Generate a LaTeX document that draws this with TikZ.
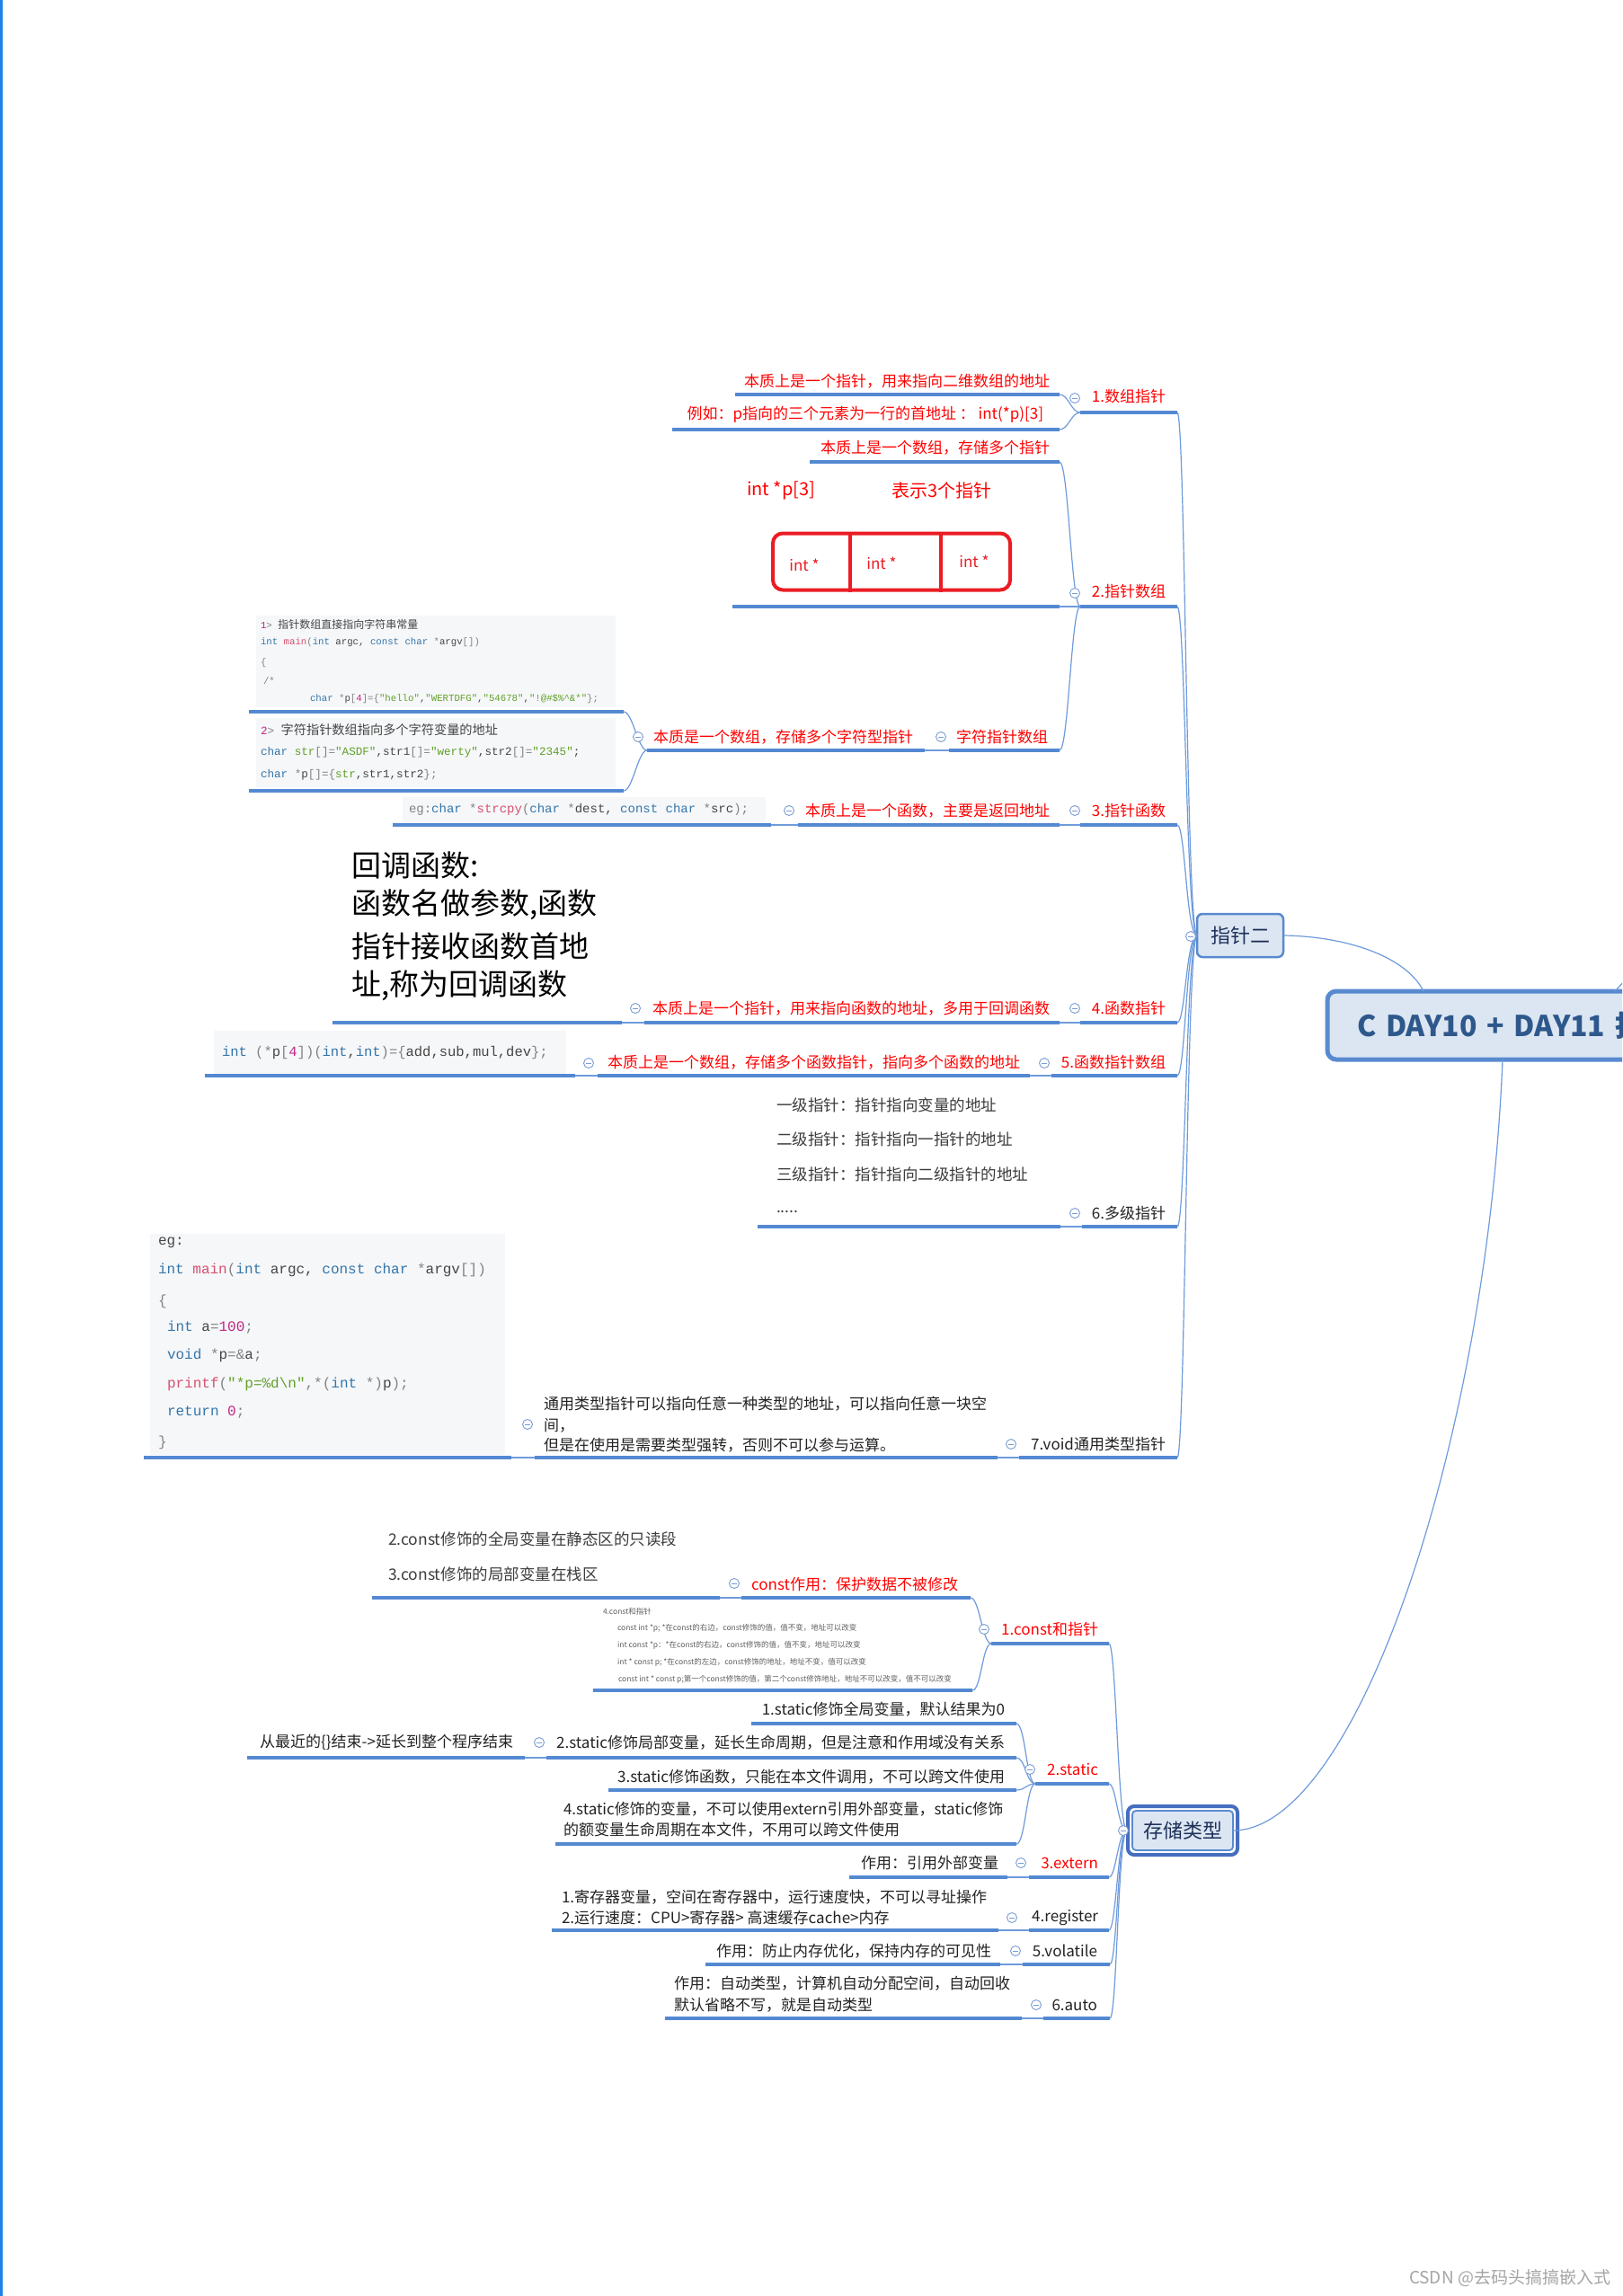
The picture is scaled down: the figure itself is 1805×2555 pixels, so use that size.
\documentclass[tikz,border=0pt]{standalone}
\usepackage{fontspec}
\setmainfont{Noto Sans CJK SC}
\setmonofont{Liberation Mono}
\usetikzlibrary{calc}
\definecolor{ublue}{RGB}{84,137,210}
\definecolor{cblue}{RGB}{110,155,220}
\definecolor{nfill}{RGB}{220,230,242}
\definecolor{nborder}{RGB}{88,138,208}
\definecolor{ntext}{RGB}{28,48,88}
\definecolor{ttext}{RGB}{46,88,140}
\definecolor{ccborder}{RGB}{70,110,190}
\definecolor{tblack}{RGB}{35,35,35}
\definecolor{tgray}{RGB}{60,60,60}
\definecolor{tinyc}{RGB}{95,95,95}
\definecolor{mred}{RGB}{255,0,0}
\definecolor{boxred}{RGB}{235,28,36}
\definecolor{codebgc}{RGB}{246,247,249}
\definecolor{ckwc}{RGB}{52,118,170}
\definecolor{cfnc}{RGB}{214,80,112}
\definecolor{cstc}{RGB}{96,160,40}
\definecolor{cnmc}{RGB}{190,40,130}
\definecolor{cplc}{RGB}{70,70,70}
\definecolor{cpnc}{RGB}{130,130,130}
\definecolor{iconc}{RGB}{120,155,210}
\definecolor{wmark}{RGB}{165,165,165}
\definecolor{edgeblue}{RGB}{30,130,230}
\newcommand\ckw[1]{\textcolor{ckwc}{#1}}
\newcommand\cfn[1]{\textcolor{cfnc}{#1}}
\newcommand\cst[1]{\textcolor{cstc}{#1}}
\newcommand\cnm[1]{\textcolor{cnmc}{#1}}
\newcommand\cpn[1]{\textcolor{cpnc}{#1}}
\newcommand\mmlink[2]{\draw[conn] (#1) .. controls ($(#1)+(10,0)$) and ($(#2)+(-10,0)$) .. (#2);}
\tikzset{
  every node/.style={inner sep=0pt, outer sep=0pt},
  uline/.style={draw=ublue, line width=3.5pt},
  conn/.style={draw=cblue, line width=1.2pt},
  rlab/.style={text=mred, font=\fontsize{17}{21}\selectfont},
  blab/.style={text=tblack, font=\fontsize{17}{21}\selectfont},
  glab/.style={text=tgray, font=\fontsize{17.5}{22}\selectfont},
  biglab/.style={text=black, font=\fontsize{33}{40}\selectfont},
  tinylab/.style={text=tinyc, font=\fontsize{8.5}{10}\selectfont},
  icon/.style={circle, draw=iconc, fill=white, line width=0.9pt, minimum size=11pt,
    path picture={\draw[iconc, line width=0.9pt] ([xshift=-3pt]path picture bounding box.center) -- ([xshift=3pt]path picture bounding box.center);}},
  codebg/.style={fill=codebgc, draw=none, anchor=north west},
  codeA/.style={text=cplc, font=\ttfamily\fontsize{10.7}{13}\selectfont, anchor=west},
  codeB/.style={text=cplc, font=\ttfamily\fontsize{12.6}{15}\selectfont, anchor=west},
  codeC/.style={text=cplc, font=\ttfamily\fontsize{14}{17}\selectfont, anchor=west},
  codeD/.style={text=cplc, font=\ttfamily\fontsize{15.5}{18}\selectfont, anchor=west},
  codeE/.style={text=cplc, font=\ttfamily\fontsize{16}{19}\selectfont, anchor=west},
  mmnode/.style={rectangle, rounded corners=6pt, fill=nfill, draw=nborder, line width=2.5pt, text=ntext, font=\fontsize{22}{26}\selectfont},
  titlebox/.style={rectangle, rounded corners=10pt, fill=nfill, draw=nborder, line width=5pt, text=ttext, font=\fontsize{32}{36}\selectfont\bfseries},
  ccnode/.style={rectangle, rounded corners=4pt, fill=nfill, draw=nborder, line width=1.8pt, text=ntext, font=\fontsize{22}{26}\selectfont},
  redcell/.style={text=boxred, font=\fontsize{17}{20}\selectfont},
  redline/.style={draw=boxred, line width=4pt}
}
\begin{document}
\begin{tikzpicture}[x=1pt,y=-1pt]
\path[use as bounding box] (0,0) rectangle (1805,2555);
\clip (0,0) rectangle (1805,2555);
\fill[white] (0,0) rectangle (1805,2555);
\draw[edgeblue, line width=2.5pt] (1.25,0) -- (1.25,2555);

% ---------------- main nodes
\node[mmnode, minimum width=96pt, minimum height=48pt] (zz) at (1380,1041) {指针二};
\node[titlebox, anchor=west, minimum height=76pt, text width=400pt, inner xsep=33pt, align=left] (title) at (1477,1141) {C DAY10 + DAY11 指};
\node[ccnode, minimum width=112pt, minimum height=44pt] (cc) at (1316,2037) {存储类型};
\draw[ccborder, line width=4pt, rounded corners=7pt] ($(cc.north west)+(-5,-5)$) rectangle ($(cc.south east)+(5,5)$);

\coordinate (tA) at ($(title.north west)+(320,0)$);
\coordinate (tB) at (1835,1062);
\draw[conn] (tA) -- (tB);
\draw[conn] (zz.east) .. controls (1500,1042) and (1565,1065) .. ($(title.north west)+(107,0)$);
\draw[conn] ($(title.south west)+(195,0)$) .. controls (1655,1600) and (1510,2037) .. (cc.east);

% ================= 指针二 branch
% 1.数组指针
\node[rlab, anchor=east] (c1) at (1297,441) {1.数组指针};
\coordinate (c1l) at (1202,459); \coordinate (c1r) at (1310,459);
\node[rlab, anchor=east] (c1a) at (1168,424) {本质上是一个指针，用来指向二维数组的地址};
\coordinate (c1al) at (818,439); \coordinate (c1ar) at (1179,439);
\node[rlab, anchor=east] (c1b) at (1161,461) {例如：p指向的三个元素为一行的首地址 ： int(*p)[3]};
\coordinate (c1bl) at (748,478); \coordinate (c1br) at (1179,478);

% 2.指针数组
\node[rlab, anchor=east] (c2) at (1297,658) {2.指针数组};
\coordinate (c2l) at (1202,675); \coordinate (c2r) at (1310,675);
\node[rlab, anchor=east] (c2a) at (1168,498) {本质上是一个数组，存储多个指针};
\coordinate (c2al) at (901,514); \coordinate (c2ar) at (1179,514);
\coordinate (c2bl) at (815,675); \coordinate (c2br) at (1179,675);
\node[text=mred, font=\fontsize{20}{24}\selectfont, anchor=west] (p3) at (831,546) {int *p[3]};
\node[text=mred, font=\fontsize{20}{24}\selectfont, anchor=west] (p3d) at (992,546) {表示3个指针};
\node[draw=boxred, line width=4pt, rounded corners=11pt, minimum width=264pt, minimum height=63pt] (pbox) at (992,625) {};
\draw[redline] ($(pbox.north west)+(86,0)$) -- ($(pbox.south west)+(86,2)$);
\draw[redline] ($(pbox.north west)+(187,0)$) -- ($(pbox.south west)+(187,2)$);
\node[redcell] (cell1) at (895,629) {int *};
\node[redcell] (cell2) at (981,627) {int *};
\node[redcell] (cell3) at (1084,625) {int *};
\node[rlab, anchor=east] (c2c) at (1166,820) {字符指针数组};
\coordinate (c2cl) at (1056,835); \coordinate (c2cr) at (1179,835);
\node[rlab, anchor=east] (c2c1) at (1016,820) {本质是一个数组，存储多个字符型指针};
\coordinate (c2c1l) at (720,835); \coordinate (c2c1r) at (1029,835);
% code 1
\node[codebg, minimum width=400pt, minimum height=102pt] (k1) at (285,685) {};
\node[codeA] (k1a) at (290,695) {\cnm{1}\cpn{>} {\rmfamily\fontsize{12}{14}\selectfont 指针数组直接指向字符串常量}};
\node[codeA] (k1b) at (290,715) {\ckw{int} \cfn{main}\cpn{(}\ckw{int} argc, \ckw{const} \ckw{char} \cpn{*}argv\cpn{[])}};
\node[codeA] (k1c) at (290,738) {\cpn{\{}};
\node[codeA] (k1d) at (293,758) {\cpn{/*}};
\node[codeA] (k1e) at (345,778) {\ckw{char} \cpn{*}p\cpn{[}\cnm{4}\cpn{]=\{}\cst{"hello"},\cst{"WERTDFG"},\cst{"54678"},\cst{"!@\#\$\%\textasciicircum\&*"}\cpn{\};}};
\coordinate (k1l) at (277,792); \coordinate (k1r) at (694,792);
% code 2
\node[codebg, minimum width=400pt, minimum height=77pt] (k2) at (285,799) {};
\node[codeB] (k2a) at (290,812) {\cnm{2}\cpn{>} {\rmfamily\fontsize{14.2}{16}\selectfont 字符指针数组指向多个字符变量的地址}};
\node[codeB] (k2b) at (290,837) {\ckw{char} \cst{str}\cpn{[]=}\cst{"ASDF"},str1\cpn{[]=}\cst{"werty"},str2\cpn{[]=}\cst{"2345"};};
\node[codeB] (k2c) at (290,862) {\ckw{char} \cpn{*}p\cpn{[]=\{}\cst{str},str1,str2\cpn{\};}};
\coordinate (k2l) at (277,880); \coordinate (k2r) at (694,880);

% 3.指针函数
\node[rlab, anchor=east] (c3) at (1297,902) {3.指针函数};
\coordinate (c3l) at (1202,918); \coordinate (c3r) at (1310,918);
\node[rlab, anchor=east] (c3a) at (1168,902) {本质上是一个函数，主要是返回地址};
\coordinate (c3al) at (888,918); \coordinate (c3ar) at (1179,918);
\node[codebg, minimum width=404pt, minimum height=29pt] (k3) at (448,887) {};
\node[codeC] (k3a) at (455,901) {\cpn{eg:}\ckw{char} \cpn{*}\cfn{strcpy}\cpn{(}\ckw{char} \cpn{*}dest, \ckw{const} \ckw{char} \cpn{*}src\cpn{);}};
\coordinate (k3l) at (437,918); \coordinate (k3r) at (858,918);

% 4.函数指针
\node[rlab, anchor=east] (c4) at (1297,1122) {4.函数指针};
\coordinate (c4l) at (1202,1138); \coordinate (c4r) at (1310,1138);
\node[rlab, anchor=east] (c4a) at (1168,1122) {本质上是一个指针，用来指向函数的地址，多用于回调函数};
\coordinate (c4al) at (717,1138); \coordinate (c4ar) at (1179,1138);
\node[biglab, anchor=west] (cb1) at (391,963) {回调函数:};
\node[biglab, anchor=west] (cb2) at (391,1007) {函数名做参数,函数};
\node[biglab, anchor=west] (cb3) at (391,1053) {指针接收函数首地};
\node[biglab, anchor=west] (cb4) at (391,1097) {址,称为回调函数};
\coordinate (k4l) at (370,1138); \coordinate (k4r) at (692,1138);

% 5.函数指针数组
\node[rlab, anchor=east] (c5) at (1297,1182) {5.函数指针数组};
\coordinate (c5l) at (1170,1197); \coordinate (c5r) at (1310,1197);
\node[rlab, anchor=east] (c5a) at (1135,1182) {本质上是一个数组，存储多个函数指针，指向多个函数的地址};
\coordinate (c5al) at (665,1197); \coordinate (c5ar) at (1146,1197);
\node[codebg, minimum width=392pt, minimum height=48pt] (k5) at (238,1147) {};
\node[codeD] (k5a) at (247,1171) {\ckw{int} \cpn{(*}p\cpn{[}\cnm{4}\cpn{])(}\ckw{int},\ckw{int}\cpn{)=\{}add,sub,mul,dev\cpn{\};}};
\coordinate (k5l) at (228,1197); \coordinate (k5r) at (640,1197);

% 6.多级指针
\node[blab, anchor=east] (c6) at (1297,1350) {6.多级指针};
\coordinate (c6l) at (1204,1365); \coordinate (c6r) at (1310,1365);
\node[glab, anchor=west] (c6a1) at (864,1230) {一级指针：指针指向变量的地址};
\node[glab, anchor=west] (c6a2) at (864,1268) {二级指针：指针指向一指针的地址};
\node[glab, anchor=west] (c6a3) at (864,1307) {三级指针：指针指向二级指针的地址};
\node[glab, anchor=west] (c6a4) at (864,1348) {.....};
\coordinate (c6al) at (843,1365); \coordinate (c6ar) at (1180,1365);

% 7.void
\node[blab, anchor=east] (c7) at (1297,1607) {7.void通用类型指针};
\coordinate (c7l) at (1134,1622); \coordinate (c7r) at (1310,1622);
\node[blab, anchor=west] (c7a1) at (605,1562) {通用类型指针可以指向任意一种类型的地址，可以指向任意一块空};
\node[blab, anchor=west] (c7a2) at (605,1586) {间，};
\node[blab, anchor=west] (c7a3) at (605,1608) {但是在使用是需要类型强转，否则不可以参与运算。};
\coordinate (c7al) at (595,1622); \coordinate (c7ar) at (1110,1622);
\node[codebg, minimum width=395pt, minimum height=246pt] (k7) at (167,1373) {};
\node[codeE] (k7a) at (176,1383) {eg:};
\node[codeE] (k7b) at (176,1413) {\ckw{int} \cfn{main}\cpn{(}\ckw{int} argc, \ckw{const} \ckw{char} \cpn{*}argv\cpn{[])}};
\node[codeE] (k7c) at (176,1448) {\cpn{\{}};
\node[codeE] (k7d) at (186,1477) {\ckw{int} a\cpn{=}\cnm{100}\cpn{;}};
\node[codeE] (k7e) at (186,1508) {\ckw{void} \cpn{*}p\cpn{=\&}a\cpn{;}};
\node[codeE] (k7f) at (186,1540) {\cfn{printf}\cpn{(}\cst{"*p=\%d\textbackslash n"}\cpn{,*(}\ckw{int} \cpn{*)}p\cpn{);}};
\node[codeE] (k7g) at (186,1572) {\ckw{return} \cnm{0}\cpn{;}};
\node[codeE] (k7h) at (176,1605) {\cpn{\}}};
\coordinate (k7l) at (160,1622); \coordinate (k7r) at (569,1622);

% underlines 指针二
\foreach \u in {c1,c1a,c1b,c2,c2a,c2b,c2c,c2c1,k1,k2,c3,c3a,k3,c4,c4a,k4,c5,c5a,k5,c6,c6a,c7,c7a,k7}
  \draw[uline] (\u l) -- (\u r);

% links 指针二
\mmlink{c1ar}{c1l}\mmlink{c1br}{c1l}
\mmlink{c2ar}{c2l}\mmlink{c2br}{c2l}\mmlink{c2cr}{c2l}
\mmlink{c2c1r}{c2cl}\mmlink{k1r}{c2c1l}\mmlink{k2r}{c2c1l}
\mmlink{c3ar}{c3l}\mmlink{k3r}{c3al}
\mmlink{c4ar}{c4l}\mmlink{k4r}{c4al}
\mmlink{c5ar}{c5l}\mmlink{k5r}{c5al}
\mmlink{c6ar}{c6l}
\mmlink{c7ar}{c7l}\mmlink{k7r}{c7al}
\foreach \u in {c1,c2,c3,c4,c5,c6,c7}
  \draw[conn] (\u r) .. controls ($(\u r)+(9,0)$) and ($(zz.west)+(-12,0)$) .. (zz.west);

% icons 指针二
\node[icon] (i1) at (1196,443) {};
\node[icon] (i2) at (1196,660) {};
\node[icon] (i2c) at (1047,820) {};
\node[icon] (i2c1) at (710,820) {};
\node[icon] (i3) at (1196,902) {};
\node[icon] (i3a) at (878,902) {};
\node[icon] (i4) at (1196,1122) {};
\node[icon] (i4a) at (707,1122) {};
\node[icon] (i5) at (1162,1183) {};
\node[icon] (i5a) at (655,1183) {};
\node[icon] (i6) at (1196,1350) {};
\node[icon] (i7) at (1125,1607) {};
\node[icon] (i7a) at (587,1585) {};
\node[icon] (izz) at (1325,1042) {};

% ================= 存储类型 branch
\node[rlab, anchor=east] (s1) at (1222,1813) {1.const和指针};
\coordinate (s1l) at (1103,1829); \coordinate (s1r) at (1234,1829);
\node[rlab, anchor=east] (s1a) at (1066,1763) {const作用：保护数据不被修改};
\coordinate (s1al) at (825,1778); \coordinate (s1ar) at (1080,1778);
\node[glab, anchor=west] (s1a1a) at (432,1713) {2.const修饰的全局变量在静态区的只读段};
\node[glab, anchor=west] (s1a1b) at (432,1752) {3.const修饰的局部变量在栈区};
\coordinate (s1a1l) at (414,1778); \coordinate (s1a1r) at (801,1778);
\node[tinylab, anchor=west] (s1b0) at (671,1793) {4.const和指针};
\node[tinylab, anchor=west] (s1b1) at (687,1812) {const int *p; *在const的右边，const修饰的值，值不变，地址可以改变};
\node[tinylab, anchor=west] (s1b2) at (687,1831) {int const *p：*在const的右边，const修饰的值，值不变，地址可以改变};
\node[tinylab, anchor=west] (s1b3) at (687,1850) {int * const p; *在const的左边，const修饰的地址，地址不变，值可以改变};
\node[tinylab, anchor=west] (s1b4) at (688,1869) {const int * const p;第一个const修饰的值，第二个const修饰地址，地址不可以改变，值不可以改变};
\coordinate (s1bl) at (660,1881); \coordinate (s1br) at (1082,1881);

\node[rlab, anchor=east] (s2) at (1222,1969) {2.static};
\coordinate (s2l) at (1152,1985); \coordinate (s2r) at (1234,1985);
\node[blab, anchor=east] (s2a) at (1118,1902) {1.static修饰全局变量，默认结果为0};
\coordinate (s2al) at (836,1918); \coordinate (s2ar) at (1131,1918);
\node[blab, anchor=east] (s2b) at (1118,1939) {2.static修饰局部变量，延长生命周期，但是注意和作用域没有关系};
\coordinate (s2bl) at (608,1956); \coordinate (s2br) at (1131,1956);
\node[blab, anchor=east] (s2b1) at (571,1939) {从最近的\{\}结束->延长到整个程序结束};
\coordinate (s2b1l) at (275,1956); \coordinate (s2b1r) at (584,1956);
\node[blab, anchor=east] (s2c) at (1118,1977) {3.static修饰函数，只能在本文件调用，不可以跨文件使用};
\coordinate (s2cl) at (677,1992); \coordinate (s2cr) at (1131,1992);
\node[blab, anchor=west] (s2d1) at (627,2013) {4.static修饰的变量，不可以使用extern引用外部变量，static修饰};
\node[blab, anchor=west] (s2d2) at (627,2036) {的额变量生命周期在本文件，不用可以跨文件使用};
\coordinate (s2dl) at (618,2052); \coordinate (s2dr) at (1131,2052);

\node[rlab, anchor=east] (s3) at (1222,2073) {3.extern};
\coordinate (s3l) at (1145,2089); \coordinate (s3r) at (1234,2089);
\node[blab, anchor=east] (s3a) at (1111,2073) {作用：引用外部变量};
\coordinate (s3al) at (945,2089); \coordinate (s3ar) at (1121,2089);

\node[blab, anchor=east] (s4) at (1222,2134) {4.register};
\coordinate (s4l) at (1145,2148); \coordinate (s4r) at (1234,2148);
\node[blab, anchor=west] (s4a1) at (625,2111) {1.寄存器变量，空间在寄存器中，运行速度快，不可以寻址操作};
\node[blab, anchor=west] (s4a2) at (625,2134) {2.运行速度：CPU>寄存器> 高速缓存cache>内存};
\coordinate (s4al) at (614,2148); \coordinate (s4ar) at (1111,2148);

\node[blab, anchor=east] (s5) at (1221,2171) {5.volatile};
\coordinate (s5l) at (1138,2186); \coordinate (s5r) at (1235,2186);
\node[blab, anchor=east] (s5a) at (1103,2171) {作用：防止内存优化，保持内存的可见性};
\coordinate (s5al) at (785,2186); \coordinate (s5ar) at (1113,2186);

\node[blab, anchor=east] (s6) at (1221,2231) {6.auto};
\coordinate (s6l) at (1161,2246); \coordinate (s6r) at (1235,2246);
\node[blab, anchor=west] (s6a1) at (750,2207) {作用：自动类型，计算机自动分配空间，自动回收};
\node[blab, anchor=west] (s6a2) at (750,2231) {默认省略不写，就是自动类型};
\coordinate (s6al) at (740,2246); \coordinate (s6ar) at (1137,2246);

\foreach \u in {s1,s1a,s1a1,s1b,s2,s2a,s2b,s2b1,s2c,s2d,s3,s3a,s4,s4a,s5,s5a,s6,s6a}
  \draw[uline] (\u l) -- (\u r);

\mmlink{s1ar}{s1l}\mmlink{s1br}{s1l}\mmlink{s1a1r}{s1al}
\mmlink{s2ar}{s2l}\mmlink{s2br}{s2l}\mmlink{s2cr}{s2l}\mmlink{s2dr}{s2l}\mmlink{s2b1r}{s2bl}
\mmlink{s3ar}{s3l}\mmlink{s4ar}{s4l}\mmlink{s5ar}{s5l}\mmlink{s6ar}{s6l}
\foreach \u in {s1,s2,s3,s4,s5,s6}
  \draw[conn] (\u r) .. controls ($(\u r)+(8,0)$) and ($(cc.west)+(-16,0)$) .. ($(cc.west)+(-6,0)$);

\node[icon] (j1) at (1095,1813) {};
\node[icon] (j1a) at (817,1762) {};
\node[icon] (j2) at (1146,1969) {};
\node[icon] (j2b) at (600,1939) {};
\node[icon] (j3) at (1136,2073) {};
\node[icon] (j4) at (1126,2134) {};
\node[icon] (j5) at (1130,2171) {};
\node[icon] (j6) at (1153,2231) {};
\node[icon] (jcc) at (1250,2037) {};

% watermark
\node[text=wmark, font=\fontsize{19}{22}\selectfont, anchor=east] (wm) at (1792,2535) {CSDN @去码头搞搞嵌入式};
\end{tikzpicture}
\end{document}
